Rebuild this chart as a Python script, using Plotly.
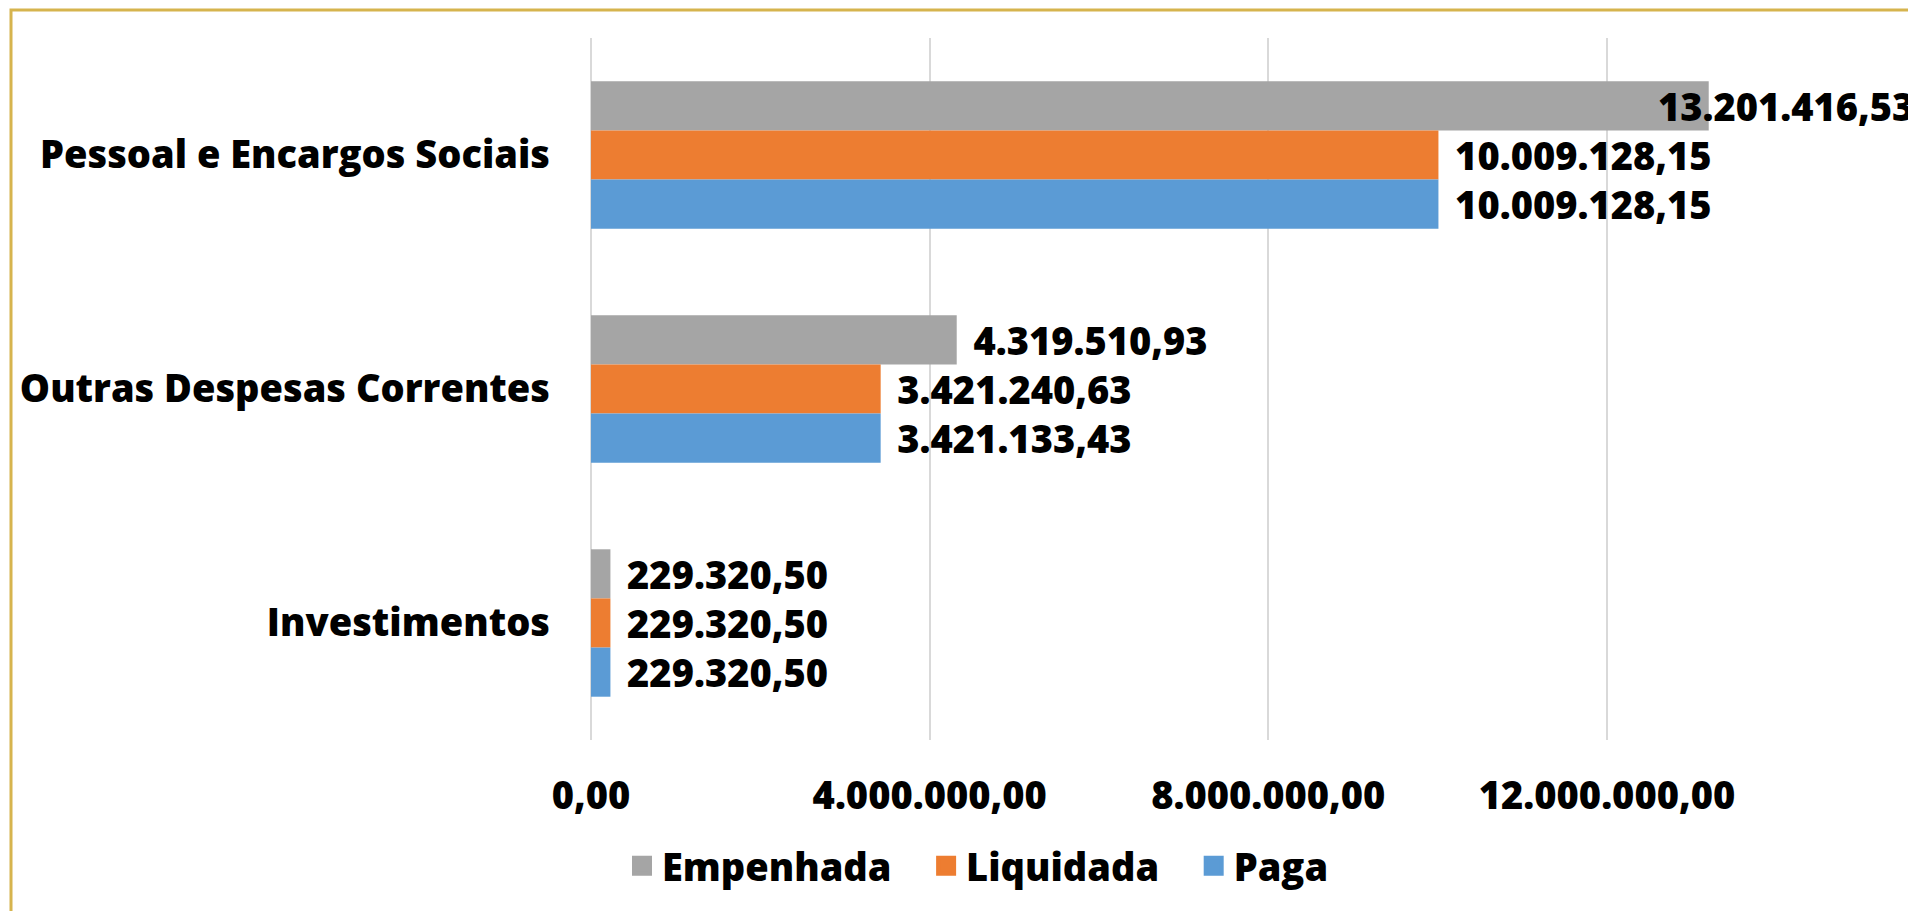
import plotly.graph_objects as go

# Despesa por grupo (R$)
categorias = ["Pessoal e Encargos Sociais", "Outras Despesas Correntes", "Investimentos"]
empenhada = [13201416.53, 4319510.93, 229320.50]
liquidada = [10009128.15, 3421240.63, 229320.50]
paga = [10009128.15, 3421133.43, 229320.50]

series = [
    ("Empenhada", empenhada, "#A5A5A5"),
    ("Liquidada", liquidada, "#ED7D31"),
    ("Paga", paga, "#5B9BD5"),
]

FONT = "Open Sans"
FS = 38
W = 800
bold = dict(family=FONT, size=FS, color="black", weight=W)

# figure sits 8px in from the page corner (body margin)
W_FIG, H_FIG = 1908, 903
PLOT_L, PLOT_T, PLOT_B = 583, 30, 732
PLOT_H = PLOT_B - PLOT_T
PLOT_W = W_FIG - PLOT_L
BARGAP = 0.37
bar_px = (1 - BARGAP) * PLOT_H / len(categorias) / len(series)


def fmt_br(v):
    s = f"{v:,.2f}"
    return s.replace(",", "X").replace(".", ",").replace("X", ".")


fig = go.Figure()
for nome, valores, cor in series:
    textos = ["\u00a0\u200a" + fmt_br(v) for v in valores]
    if nome == "Empenhada":
        textos[0] = ""  # rótulo da barra mais longa vai encostado na borda direita
    fig.add_trace(go.Bar(
        y=categorias,
        x=valores,
        name=nome,
        orientation="h",
        marker=dict(color=cor, line=dict(width=0)),
        text=textos,
        textposition="outside",
        textfont=bold,
        constraintext="none",
        cliponaxis=False,
        showlegend=False,
        hovertemplate="%{y}<br>" + nome + ": %{x:,.2f}<extra></extra>",
    ))
    # legend entry with a bigger square
    fig.add_trace(go.Scatter(
        x=[None], y=[None],
        mode="markers",
        name=nome + "\u00a0\u00a0\u00a0",
        marker=dict(symbol="square", size=16, color=cor, line=dict(color=cor, width=4)),
        showlegend=True,
        hoverinfo="skip",
    ))

fig.add_annotation(
    x=1, xref="paper", xanchor="right",
    y=categorias[0], yref="y", yshift=bar_px,
    text=fmt_br(empenhada[0]),
    showarrow=False,
    font=bold,
)

fig.update_layout(
    width=W_FIG, height=H_FIG,
    margin=dict(l=PLOT_L, r=0, t=PLOT_T, b=H_FIG - PLOT_B),
    barmode="group",
    bargap=BARGAP,
    bargroupgap=0,
    separators=",.",
    plot_bgcolor="white",
    paper_bgcolor="white",
    font=bold,
    showlegend=True,
    legend=dict(
        orientation="h",
        x=(614 - PLOT_L) / PLOT_W, xanchor="left",
        y=(PLOT_B - 858) / PLOT_H, yanchor="middle",
        font=bold,
        itemsizing="trace",
        itemclick=False,
    ),
    shapes=[dict(
        type="rect", xref="paper", yref="paper",
        x0=(3 - PLOT_L) / PLOT_W, x1=1.05,
        y0=-0.4, y1=(PLOT_B - 2) / PLOT_H,
        line=dict(color="#D6B44E", width=3),
        fillcolor="rgba(0,0,0,0)",
        layer="below",
    )],
)

fig.update_xaxes(
    range=[0, 12000000 * PLOT_W / 1016],
    tickvals=[0, 4000000, 8000000, 12000000],
    tickformat=",.2f",
    showgrid=True, gridcolor="#D9D9D9", gridwidth=2,
    zeroline=True, zerolinecolor="#D9D9D9", zerolinewidth=2,
    showline=False,
    ticks="",
    ticklabelstandoff=30,
    tickfont=bold,
)
fig.update_yaxes(
    autorange="reversed",
    showgrid=False, showline=False, zeroline=False,
    ticks="",
    ticklabelstandoff=40,
    tickfont=bold,
)

fig.write_html("out.html")
